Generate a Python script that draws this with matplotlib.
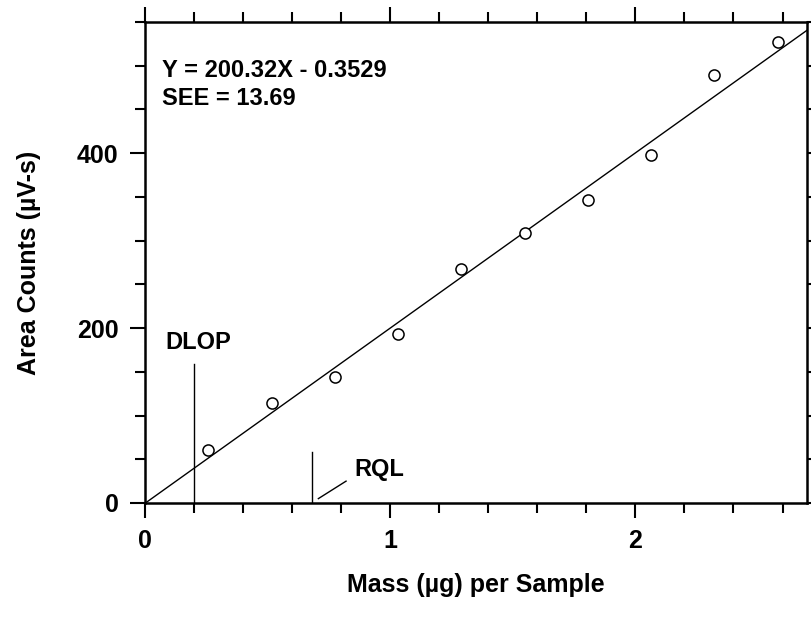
import matplotlib
matplotlib.use("Agg")
import matplotlib.pyplot as plt
import numpy as np
from matplotlib.ticker import MultipleLocator

# calibration data
mass_ug = [0.258, 0.516, 0.774, 1.032, 1.290, 1.548, 1.806, 2.064, 2.322, 2.580]
area_counts = [61, 114, 144, 193, 267, 309, 346, 398, 489, 527]

slope = 200.32
intercept = -0.3529
see = 13.69
dlop = 0.2
rql = 0.68

plt.rcParams["font.family"] = ["Liberation Sans", "DejaVu Sans"]
plt.rcParams["font.weight"] = "bold"
plt.rcParams["axes.labelweight"] = "bold"

fig = plt.figure(figsize=(8.11, 6.19), dpi=100)
ax = fig.add_axes([0.1788, 0.1874, 0.8163, 0.7771])

x_fit = np.array([0.0, 2.7])
ax.plot(x_fit, slope * x_fit + intercept, color="black", lw=1.0)
ax.plot(mass_ug, area_counts, linestyle="none", marker="o", ms=8,
        mfc="white", mec="black", mew=1.1)

# detection / quantitation markers
ax.plot([dlop, dlop], [0, 159], color="black", lw=1.0)
ax.text(dlop - 0.115, 184, "DLOP", fontsize=17, va="center", ha="left")
ax.plot([rql, rql], [0, 58], color="black", lw=1.0)
ax.plot([rql + 0.027, rql + 0.14], [5, 25], color="black", lw=1.0)
ax.text(rql + 0.175, 38, "RQL", fontsize=17, va="center", ha="left")

ax.text(0.068, 495, f"Y = {slope:.2f}X - {abs(intercept):.4f}", fontsize=17,
        va="center", ha="left")
ax.text(0.068, 462, f"SEE = {see:.2f}", fontsize=17, va="center", ha="left")

ax.set_xlim(0, 2.7)
ax.set_ylim(0, 550)
ax.xaxis.set_major_locator(MultipleLocator(1))
ax.xaxis.set_minor_locator(MultipleLocator(0.2))
ax.yaxis.set_major_locator(MultipleLocator(200))
ax.yaxis.set_minor_locator(MultipleLocator(50))
ax.tick_params(which="both", direction="out", top=True, right=True,
               width=1.5, labelsize=18, pad=8)
ax.tick_params(axis="x", pad=8)
ax.tick_params(which="major", length=11)
ax.tick_params(which="minor", length=7)
for s in ax.spines.values():
    s.set_linewidth(1.8)

ax.set_xlabel("Mass (\u00b5g) per Sample", fontsize=18, labelpad=14)
ax.set_ylabel("Area Counts (\u00b5V-s)", fontsize=18, labelpad=26)

fig.savefig("out.png", dpi=100)
